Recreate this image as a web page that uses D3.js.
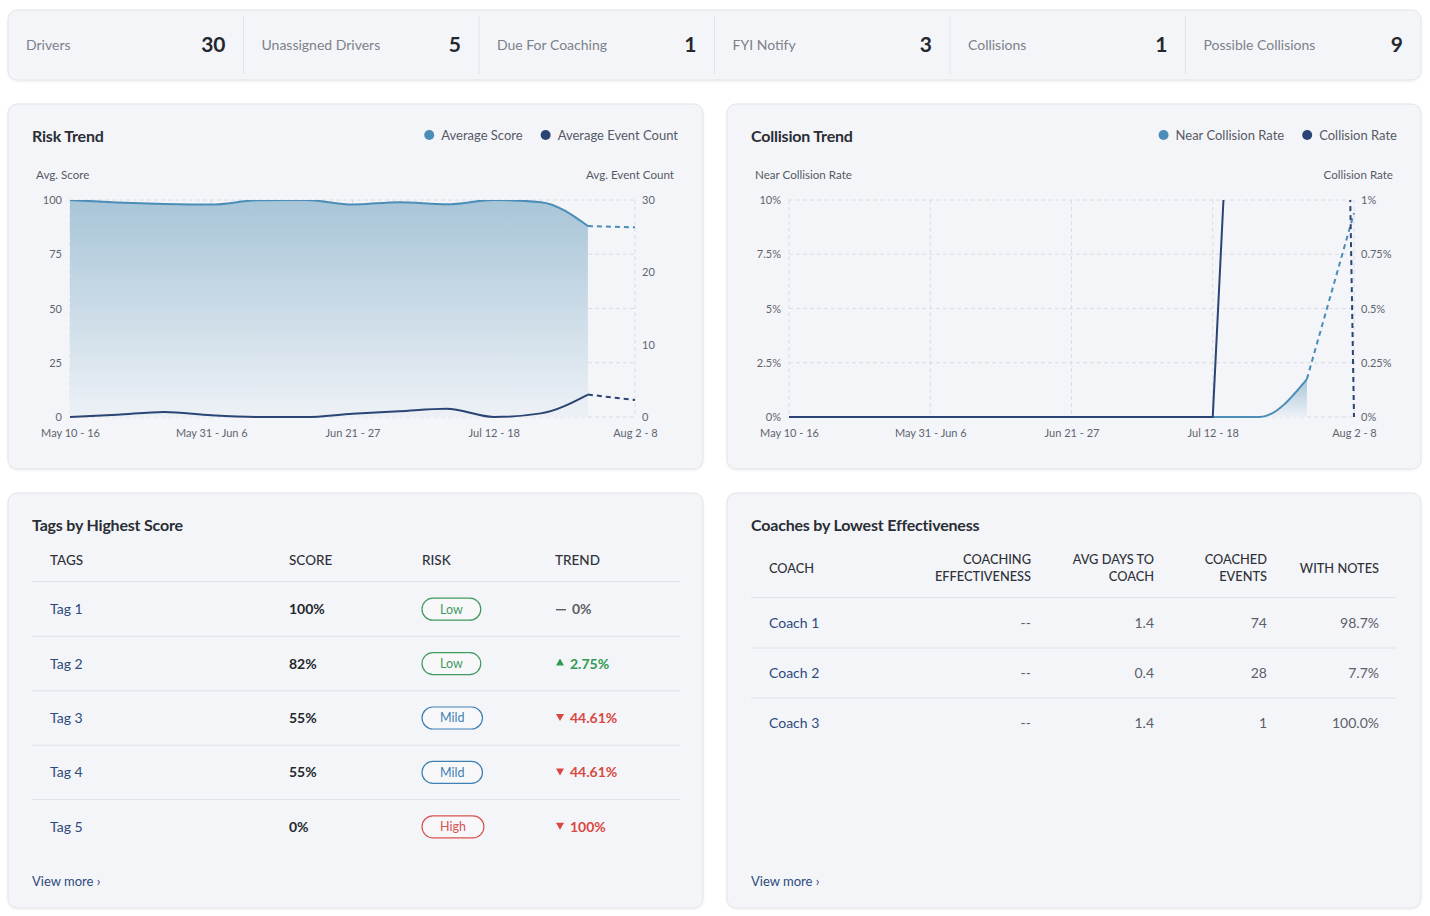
<!DOCTYPE html>
<html lang="en">
<head>
<meta charset="UTF-8">
<title>Safety Overview</title>
<script src="https://cdn.jsdelivr.net/npm/d3@7"></script>
<style>
    body { margin: 0; background: #ffffff; }
    svg { display: block; font-family: Lato, "Noto Sans", sans-serif; }
</style>
</head>
<body>
<script>

    // 顶部统计
    var statLabels = ["Drivers", "Unassigned Drivers", "Due For Coaching", "FYI Notify", "Collisions", "Possible Collisions"];
    var statValues = [30, 5, 1, 3, 1, 9];

    // 周
    var weeks = ["May 10 - 16", "May 17 - 23", "May 24 - 30", "May 31 - Jun 6", "Jun 7 - 13", "Jun 14 - 20",
                 "Jun 21 - 27", "Jun 28 - Jul 4", "Jul 5 - 11", "Jul 12 - 18", "Jul 19 - 25", "Jul 26 - Aug 1", "Aug 2 - 8"];
    var weekTicks = ["May 10 - 16", "May 31 - Jun 6", "Jun 21 - 27", "Jul 12 - 18", "Aug 2 - 8"];

    // Risk Trend
    var avgScore = [100, 98.9, 98.2, 97.9, 99.9, 100, 97.9, 99, 98, 100, 99, 88, 87.4];
    var avgEventCount = [0, 0.32, 0.7, 0.23, 0, 0, 0.45, 0.8, 1.15, 0, 0.5, 3.1, 2.35];
    var scoreTicks = [0, 25, 50, 75, 100];
    var eventTicks = [0, 10, 20, 30];

    // Collision Trend (%)
    var nearCollisionRate = [0, 0, 0, 0, 0, 0, 0, 0, 0, 0, 0, 1.75, 9.4];
    var collisionRate = [0, 0, 0, 0, 0, 0, 0, 0, 0, 0, 4.4, 12.5, 0];
    var nearTicks = [0, 2.5, 5, 7.5, 10];
    var collisionTicks = [0, 0.25, 0.5, 0.75, 1];

    // Tags by Highest Score
    var tagHeaders = ["TAGS", "SCORE", "RISK", "TREND"];
    var tagNames = ["Tag 1", "Tag 2", "Tag 3", "Tag 4", "Tag 5"];
    var tagScores = [100, 82, 55, 55, 0];
    var tagRisks = ["Low", "Low", "Mild", "Mild", "High"];
    var tagTrends = [0, 2.75, -44.61, -44.61, -100];

    // Coaches by Lowest Effectiveness
    var coachHeaders = [["COACH"], ["COACHING", "EFFECTIVENESS"], ["AVG DAYS TO", "COACH"], ["COACHED", "EVENTS"], ["WITH NOTES"]];
    var coachNames = ["Coach 1", "Coach 2", "Coach 3"];
    var coachEffectiveness = [null, null, null];
    var coachAvgDays = [1.4, 0.4, 1.4];
    var coachEvents = [74, 28, 1];
    var coachWithNotes = [98.7, 7.7, 100.0];

</script>

<script>

    var width = 1430;
    var height = 916;

    var lightBlue = "#4a8db7";
    var navy = "#2a4473";
    var linkColor = "#2d4a7c";
    var gridColor = "#d9dce2";
    var tickColor = "#5f646d";

    var svg = d3.select("body")
        .append("svg")
        .attr("width", width)
        .attr("height", height);

    var defs = svg.append("defs");

    // 卡片阴影
    var shadow = defs.append("filter")
        .attr("id", "cardShadow")
        .attr("x", "-5%").attr("y", "-5%")
        .attr("width", "110%").attr("height", "115%");
    shadow.append("feDropShadow")
        .attr("dx", 0).attr("dy", 1)
        .attr("stdDeviation", 1.2)
        .attr("flood-color", "#000")
        .attr("flood-opacity", 0.07);

    // 面积渐变
    var grad = defs.append("linearGradient")
        .attr("id", "areaGrad")
        .attr("x1", 0).attr("y1", 0)
        .attr("x2", 0).attr("y2", 1);
    grad.append("stop").attr("offset", "0%").attr("stop-color", "#a8c5d8");
    grad.append("stop").attr("offset", "100%").attr("stop-color", "#edf1f6");

    // 画卡片
    function card(x, y, w, h) {
        return svg.append("rect")
            .attr("x", x).attr("y", y)
            .attr("width", w).attr("height", h)
            .attr("rx", 9).attr("ry", 9)
            .attr("fill", "#f4f5f9")
            .attr("stroke", "#e2e4e9")
            .attr("stroke-width", 1)
            .attr("filter", "url(#cardShadow)");
    }

    function cardTitle(x, y, text) {
        svg.append("text")
            .attr("x", x).attr("y", y)
            .attr("font-size", 16)
            .attr("font-weight", 700)
            .attr("fill", "#2a2e35")
            .attr("letter-spacing", "-0.2")
            .text(text);
    }

    // ---------- 顶部统计条 ----------
    card(8, 10, 1413, 70);

    var statX = d3.scaleBand().domain(statLabels).range([8, 1421]);

    var stat = svg.selectAll("g.stat")
        .data(statLabels)
        .enter()
        .append("g")
        .attr("class", "stat")
        .attr("transform", function (d) { return "translate(" + statX(d) + ",0)"; });

    stat.filter(function (d, i) { return i > 0; })
        .append("line")
        .attr("x1", 0).attr("x2", 0)
        .attr("y1", 16).attr("y2", 74)
        .attr("stroke", "#e2e4e9");

    stat.append("text")
        .attr("x", 18).attr("y", 45)
        .attr("dy", "0.35em")
        .attr("font-size", 14)
        .attr("fill", "#7c818a")
        .text(function (d) { return d; });

    stat.append("text")
        .attr("x", statX.bandwidth() - 18).attr("y", 45)
        .attr("dy", "0.35em")
        .attr("text-anchor", "end")
        .attr("font-size", 21)
        .attr("font-weight", 700)
        .attr("fill", "#25282d")
        .text(function (d, i) { return statValues[i]; });

    // ---------- 趋势图 ----------
    function legend(right, y, items) {
        var cx = right;
        for (var i = items.length - 1; i >= 0; i--) {
            var t = svg.append("text")
                .attr("y", y).attr("dy", "0.35em")
                .attr("font-size", 13)
                .attr("fill", "#555a64")
                .text(items[i].name);
            var w = t.node().getComputedTextLength();
            t.attr("x", cx - w);
            svg.append("circle")
                .attr("cx", cx - w - 12).attr("cy", y)
                .attr("r", 5)
                .attr("fill", items[i].color);
            cx = cx - w - 35;
        }
    }

    function drawTrend(cfg) {
        var x = d3.scalePoint().domain(weeks).range([cfg.x0, cfg.x1]);
        var yL = d3.scaleLinear().domain([cfg.leftTicks[0], cfg.leftTicks[cfg.leftTicks.length - 1]]).range([cfg.y1, cfg.y0]);
        var yR = d3.scaleLinear().domain([cfg.rightTicks[0], cfg.rightTicks[cfg.rightTicks.length - 1]]).range([cfg.y1, cfg.y0]);

        cardTitle(cfg.x0 - 38, 142, cfg.title);
        legend(cfg.x1 + 43, 135, [
            {name: cfg.leftName, color: lightBlue},
            {name: cfg.rightName, color: navy}
        ]);

        // 轴标题
        svg.append("text")
            .attr("x", cfg.x0 - 34).attr("y", 175)
            .attr("dy", "0.35em")
            .attr("font-size", 11.6).attr("fill", "#555a64")
            .text(cfg.leftTitle);
        svg.append("text")
            .attr("x", cfg.x1 + 39).attr("y", 175)
            .attr("dy", "0.35em")
            .attr("text-anchor", "end")
            .attr("font-size", 11.6).attr("fill", "#555a64")
            .text(cfg.rightTitle);

        // 网格
        svg.append("g").selectAll("line")
            .data(cfg.leftTicks)
            .enter().append("line")
            .attr("x1", cfg.x0).attr("x2", cfg.x1)
            .attr("y1", function (d) { return yL(d); })
            .attr("y2", function (d) { return yL(d); })
            .attr("stroke", gridColor)
            .attr("stroke-dasharray", "4,3");
        svg.append("g").selectAll("line")
            .data(weekTicks)
            .enter().append("line")
            .attr("x1", function (d) { return x(d); })
            .attr("x2", function (d) { return x(d); })
            .attr("y1", cfg.y0).attr("y2", cfg.y1)
            .attr("stroke", gridColor)
            .attr("stroke-dasharray", "4,3");

        // 坐标轴
        var axL = svg.append("g")
            .attr("transform", "translate(" + cfg.x0 + ",0)")
            .call(d3.axisLeft(yL).tickValues(cfg.leftTicks).tickFormat(cfg.leftFormat).tickSize(0).tickPadding(8));
        var axR = svg.append("g")
            .attr("transform", "translate(" + cfg.x1 + ",0)")
            .call(d3.axisRight(yR).tickValues(cfg.rightTicks).tickFormat(cfg.rightFormat).tickSize(0).tickPadding(7));
        var axB = svg.append("g")
            .attr("transform", "translate(0," + cfg.y1 + ")")
            .call(d3.axisBottom(x).tickValues(weekTicks).tickSize(0).tickPadding(12));
        [axL, axR, axB].forEach(function (a) {
            a.select(".domain").remove();
            a.selectAll("text")
                .attr("font-family", "Lato, 'Noto Sans', sans-serif")
                .attr("font-size", 11)
                .attr("fill", tickColor);
        });

        // 裁剪
        defs.append("clipPath")
            .attr("id", cfg.id + "Clip")
            .append("rect")
            .attr("x", cfg.x0 - 2).attr("y", cfg.y0)
            .attr("width", cfg.x1 - cfg.x0 + 4).attr("height", cfg.y1 - cfg.y0 + 2);

        var plot = svg.append("g").attr("clip-path", "url(#" + cfg.id + "Clip)");

        var leftPts = cfg.leftValues.map(function (v, i) { return {w: weeks[i], v: v}; });
        var rightPts = cfg.rightValues.map(function (v, i) { return {w: weeks[i], v: v}; });
        var last = weeks.length - 1;

        var area = d3.area()
            .x(function (d) { return x(d.w); })
            .y0(cfg.y1)
            .y1(function (d) { return yL(d.v); })
            .curve(d3.curveMonotoneX);

        var lineL = d3.line()
            .x(function (d) { return x(d.w); })
            .y(function (d) { return yL(d.v); })
            .curve(d3.curveMonotoneX);
        var lineR = d3.line()
            .x(function (d) { return x(d.w); })
            .y(function (d) { return yR(d.v); })
            .curve(cfg.rightCurve);

        plot.append("path")
            .datum(leftPts.slice(0, last))
            .attr("d", area)
            .attr("fill", "url(#areaGrad)");

        plot.append("path")
            .datum(leftPts.slice(0, last))
            .attr("d", lineL)
            .attr("fill", "none")
            .attr("stroke", lightBlue)
            .attr("stroke-width", 2);
        plot.append("path")
            .datum(leftPts.slice(last - 1))
            .attr("d", lineL)
            .attr("fill", "none")
            .attr("stroke", lightBlue)
            .attr("stroke-width", 2)
            .attr("stroke-dasharray", "5,4");

        plot.append("path")
            .datum(rightPts.slice(0, last))
            .attr("d", lineR)
            .attr("fill", "none")
            .attr("stroke", navy)
            .attr("stroke-width", 2);
        plot.append("path")
            .datum(rightPts.slice(last - 1))
            .attr("d", lineR)
            .attr("fill", "none")
            .attr("stroke", navy)
            .attr("stroke-width", 2)
            .attr("stroke-dasharray", "5,4");
    }

    card(8, 104, 695, 365);
    drawTrend({
        id: "risk", title: "Risk Trend",
        x0: 70, x1: 635, y0: 200, y1: 417,
        leftName: "Average Score", rightName: "Average Event Count",
        leftTitle: "Avg. Score", rightTitle: "Avg. Event Count",
        leftValues: avgScore, rightValues: avgEventCount,
        leftTicks: scoreTicks, rightTicks: eventTicks,
        leftFormat: d3.format("d"), rightFormat: d3.format("d"),
        rightCurve: d3.curveMonotoneX
    });

    card(727, 104, 694, 365);
    drawTrend({
        id: "collision", title: "Collision Trend",
        x0: 789, x1: 1354, y0: 200, y1: 417,
        leftName: "Near Collision Rate", rightName: "Collision Rate",
        leftTitle: "Near Collision Rate", rightTitle: "Collision Rate",
        leftValues: nearCollisionRate, rightValues: collisionRate,
        leftTicks: nearTicks, rightTicks: collisionTicks,
        leftFormat: function (d) { return d + "%"; },
        rightFormat: function (d) { return d + "%"; },
        rightCurve: d3.curveLinear
    });

    // ---------- Tags 表 ----------
    card(8, 493, 695, 415);
    cardTitle(32, 531, "Tags by Highest Score");

    var tagColX = [50, 289, 422, 555];
    svg.selectAll("text.tagHead")
        .data(tagHeaders)
        .enter().append("text")
        .attr("class", "tagHead")
        .attr("x", function (d, i) { return tagColX[i]; })
        .attr("y", 560).attr("dy", "0.35em")
        .attr("font-size", 13.5).attr("font-weight", 500)
        .attr("fill", "#2f3238")
        .text(function (d) { return d; });

    svg.append("line")
        .attr("x1", 32).attr("x2", 680)
        .attr("y1", 581.5).attr("y2", 581.5)
        .attr("stroke", "#e0e2e7");

    var tagY = d3.scaleBand().domain(tagNames).range([582, 854]);

    var riskColor = {Low: "#3f9a5e", Mild: "#3f80b2", High: "#d9534f"};

    var tagRow = svg.selectAll("g.tagRow")
        .data(tagNames)
        .enter().append("g")
        .attr("class", "tagRow")
        .attr("transform", function (d) { return "translate(0," + (tagY(d) + tagY.bandwidth() / 2) + ")"; });

    tagRow.filter(function (d, i) { return i < tagNames.length - 1; })
        .append("line")
        .attr("x1", 32).attr("x2", 680)
        .attr("y1", tagY.bandwidth() / 2).attr("y2", tagY.bandwidth() / 2)
        .attr("stroke", "#e0e2e7");

    tagRow.append("text")
        .attr("x", tagColX[0]).attr("dy", "0.35em")
        .attr("font-size", 14).attr("fill", linkColor)
        .text(function (d) { return d; });

    tagRow.append("text")
        .attr("x", tagColX[1]).attr("dy", "0.35em")
        .attr("font-size", 14).attr("font-weight", 700).attr("fill", "#25282d")
        .text(function (d, i) { return tagScores[i] + "%"; });

    // 风险标签
    tagRow.each(function (d, i) {
        var g = d3.select(this);
        var c = riskColor[tagRisks[i]];
        var pill = g.append("rect");
        var t = g.append("text")
            .attr("dy", "0.35em")
            .attr("text-anchor", "middle")
            .attr("font-size", 12.5).attr("fill", c)
            .text(tagRisks[i]);
        var w = t.node().getComputedTextLength() + 36;
        t.attr("x", tagColX[2] + w / 2);
        pill.attr("x", tagColX[2]).attr("y", -11)
            .attr("width", w).attr("height", 22)
            .attr("rx", 11).attr("ry", 11)
            .attr("fill", "#ffffff").attr("fill-opacity", 0.35)
            .attr("stroke", c).attr("stroke-width", 1.2);

        // 趋势
        var v = tagTrends[i];
        var tc = v > 0 ? "#2f9a52" : (v < 0 ? "#d9473f" : "#5a5e66");
        if (v > 0) {
            g.append("path").attr("d", "M556,2 L560,-5 L564,2 Z").attr("fill", tc);
        } else if (v < 0) {
            g.append("path").attr("d", "M556,-4 L564,-4 L560,3 Z").attr("fill", tc);
        } else {
            g.append("line").attr("x1", 556).attr("x2", 566).attr("y1", 0.5).attr("y2", 0.5)
                .attr("stroke", tc).attr("stroke-width", 1.4);
        }
        g.append("text")
            .attr("x", v === 0 ? 572 : 570).attr("dy", "0.35em")
            .attr("font-size", 14).attr("font-weight", 700).attr("fill", tc)
            .text(Math.abs(v) + "%");
    });

    svg.append("text")
        .attr("x", 32).attr("y", 881).attr("dy", "0.35em")
        .attr("font-size", 13).attr("fill", linkColor)
        .text("View more \u203a");

    // ---------- Coaches 表 ----------
    card(727, 493, 694, 415);
    cardTitle(751, 531, "Coaches by Lowest Effectiveness");

    var coachColX = [769, 1031, 1154, 1267, 1379];

    coachHeaders.forEach(function (lines, i) {
        var t = svg.append("text")
            .attr("x", coachColX[i])
            .attr("text-anchor", i === 0 ? "start" : "end")
            .attr("font-size", 12.8).attr("font-weight", 500)
            .attr("fill", "#2f3238");
        lines.forEach(function (s, k) {
            t.append("tspan")
                .attr("x", coachColX[i])
                .attr("y", lines.length === 1 ? 569 : 560 + k * 17)
                .attr("dy", "0.35em")
                .text(s);
        });
    });

    svg.append("line")
        .attr("x1", 751).attr("x2", 1396)
        .attr("y1", 597.5).attr("y2", 597.5)
        .attr("stroke", "#e0e2e7");

    var coachY = d3.scaleBand().domain(coachNames).range([598, 748]);

    var coachRow = svg.selectAll("g.coachRow")
        .data(coachNames)
        .enter().append("g")
        .attr("class", "coachRow")
        .attr("transform", function (d) { return "translate(0," + (coachY(d) + coachY.bandwidth() / 2) + ")"; });

    coachRow.filter(function (d, i) { return i < coachNames.length - 1; })
        .append("line")
        .attr("x1", 751).attr("x2", 1396)
        .attr("y1", coachY.bandwidth() / 2).attr("y2", coachY.bandwidth() / 2)
        .attr("stroke", "#e0e2e7");

    coachRow.append("text")
        .attr("x", coachColX[0]).attr("dy", "0.35em")
        .attr("font-size", 14).attr("fill", linkColor)
        .text(function (d) { return d; });

    var coachCols = [
        function (i) { return coachEffectiveness[i] === null ? "--" : coachEffectiveness[i] + "%"; },
        function (i) { return d3.format(".1f")(coachAvgDays[i]); },
        function (i) { return coachEvents[i]; },
        function (i) { return d3.format(".1f")(coachWithNotes[i]) + "%"; }
    ];
    coachCols.forEach(function (fn, k) {
        coachRow.append("text")
            .attr("x", coachColX[k + 1]).attr("dy", "0.35em")
            .attr("text-anchor", "end")
            .attr("font-size", 14).attr("fill", "#5c606a")
            .text(function (d, i) { return fn(i); });
    });

    svg.append("text")
        .attr("x", 751).attr("y", 881).attr("dy", "0.35em")
        .attr("font-size", 13).attr("fill", linkColor)
        .text("View more \u203a");

</script>
</body>
</html>
